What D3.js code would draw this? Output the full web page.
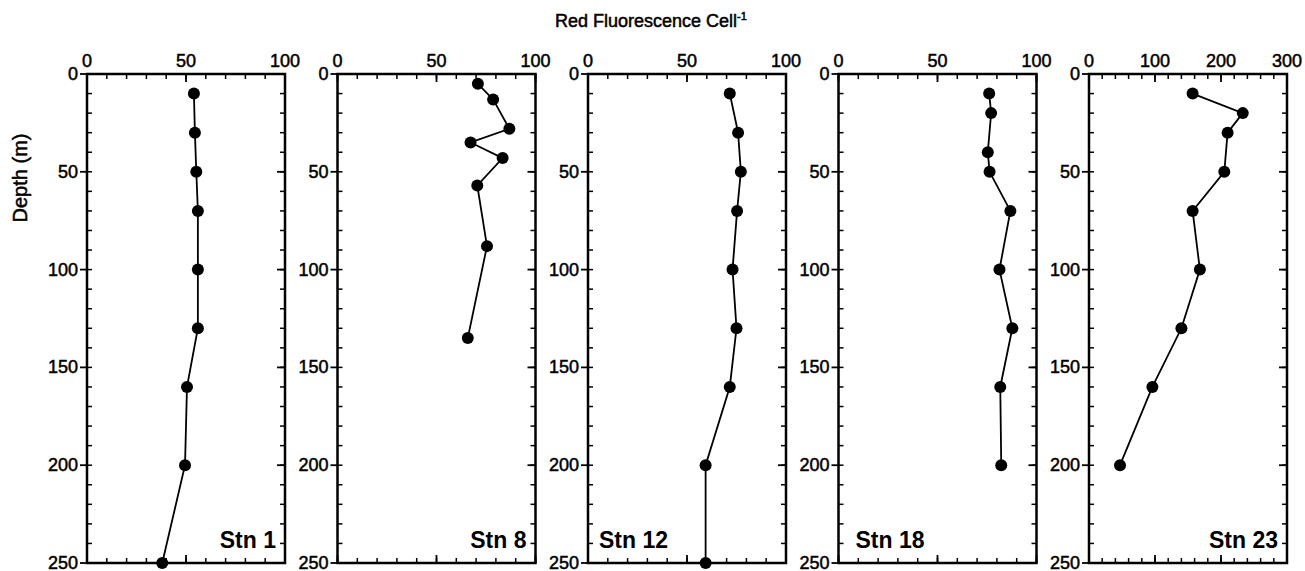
<!DOCTYPE html>
<html>
<head>
<meta charset="utf-8">
<script src="https://cdn.jsdelivr.net/npm/d3@7"></script>
<style>
  body { margin: 0; background: #fff; }
  svg text { font-family: "Liberation Sans", Arial, Helvetica, sans-serif; fill: #000; }
  .heavy { stroke: #000; stroke-width: 0.5px; }
</style>
</head>
<body>
<div id="chart"></div>
<script>
// Station names and x-axis ranges
const stations = ["Stn 1", "Stn 8", "Stn 12", "Stn 18", "Stn 23"];
const xMax = [100, 100, 100, 100, 300];

// Depth (m) of each sample, per station
const depth1 = [10, 30, 50, 70, 100, 130, 160, 200, 250];
const depth8 = [5, 13, 28, 35, 43, 57, 88, 135];
const depth12 = [10, 30, 50, 70, 100, 130, 160, 200, 250];
const depth18 = [10, 20, 40, 50, 70, 100, 130, 160, 200];
const depth23 = [10, 20, 30, 50, 70, 100, 130, 160, 200];

// Red fluorescence per cell, per station
const fluor1 = [54, 54.5, 55.2, 56, 56, 56, 50.5, 49.5, 38];
const fluor8 = [70.9, 78.6, 86.8, 67.2, 83.4, 70.6, 75.5, 65.8];
const fluor12 = [71.6, 75.8, 77.2, 75.3, 73.0, 75, 71.6, 59.4, 59.4];
const fluor18 = [76.1, 77.1, 75.4, 76.3, 86.8, 81.3, 87.8, 81.7, 82.2];
const fluor23 = [157, 233, 210, 205, 157, 168, 140, 96, 47];

const depths = [depth1, depth8, depth12, depth18, depth23];
const fluors = [fluor1, fluor8, fluor12, fluor18, fluor23];

// Tick values
const depthMajor = [0, 50, 100, 150, 200, 250];
const depthMinor = d3.range(0, 251, 10);
const xMajorTicks = [[0, 50, 100], [0, 50, 100], [0, 50, 100], [0, 50, 100], [0, 100, 200, 300]];
const xMinorStep = [10, 10, 10, 10, 20];

// Label placement inside each panel: anchor side
const labelAnchor = ["end", "end", "start", "start", "end"];

const width = 1305, height = 571;
const panelLeft0 = 87, panelStep = 250.5, panelWidth = 198;
const plotTop = 74, plotBottom = 563;

const svg = d3.select("#chart").append("svg")
    .attr("width", width)
    .attr("height", height);

const y = d3.scaleLinear().domain([0, 250]).range([plotTop, plotBottom]);

// Title
const title = svg.append("text")
    .attr("class", "heavy")
    .attr("x", 555)
    .attr("y", 27)
    .attr("font-size", "18px");
title.append("tspan").text("Red Fluorescence Cell");
title.append("tspan").attr("dy", -7).attr("font-size", "11px").text("-1");

// Y axis label
svg.append("text")
    .attr("class", "heavy")
    .attr("transform", "translate(27,178) rotate(-90)")
    .attr("text-anchor", "middle")
    .attr("font-size", "20px")
    .text("Depth (m)");

stations.forEach((name, i) => {
    const left = panelLeft0 + i * panelStep;
    const right = left + panelWidth;
    const x = d3.scaleLinear().domain([0, xMax[i]]).range([left, right]);
    const g = svg.append("g");

    const xMinor = d3.range(0, xMax[i] + 0.001, xMinorStep[i]);

    // Minor ticks, inward on all sides
    g.append("g").selectAll("line").data(xMinor).join("line")
        .attr("x1", d => x(d)).attr("x2", d => x(d))
        .attr("y1", plotTop).attr("y2", plotTop + 5)
        .attr("stroke", "#000").attr("stroke-width", 1.5);
    g.append("g").selectAll("line").data(xMinor).join("line")
        .attr("x1", d => x(d)).attr("x2", d => x(d))
        .attr("y1", plotBottom).attr("y2", plotBottom - 5)
        .attr("stroke", "#000").attr("stroke-width", 1.5);
    g.append("g").selectAll("line").data(depthMinor).join("line")
        .attr("x1", left).attr("x2", left + 5)
        .attr("y1", d => y(d)).attr("y2", d => y(d))
        .attr("stroke", "#000").attr("stroke-width", 1.5);
    g.append("g").selectAll("line").data(depthMinor).join("line")
        .attr("x1", right).attr("x2", right - 5)
        .attr("y1", d => y(d)).attr("y2", d => y(d))
        .attr("stroke", "#000").attr("stroke-width", 1.5);

    // Major ticks
    g.append("g").selectAll("line").data(xMajorTicks[i]).join("line")
        .attr("x1", d => x(d)).attr("x2", d => x(d))
        .attr("y1", plotTop).attr("y2", plotTop + 8)
        .attr("stroke", "#000").attr("stroke-width", 1.8);
    g.append("g").selectAll("line").data(xMajorTicks[i]).join("line")
        .attr("x1", d => x(d)).attr("x2", d => x(d))
        .attr("y1", plotBottom).attr("y2", plotBottom - 8)
        .attr("stroke", "#000").attr("stroke-width", 1.8);
    g.append("g").selectAll("line").data(depthMajor).join("line")
        .attr("x1", left - 7).attr("x2", left)
        .attr("y1", d => y(d)).attr("y2", d => y(d))
        .attr("stroke", "#000").attr("stroke-width", 1.8);
    g.append("g").selectAll("line").data(depthMajor).join("line")
        .attr("x1", right).attr("x2", right - 8)
        .attr("y1", d => y(d)).attr("y2", d => y(d))
        .attr("stroke", "#000").attr("stroke-width", 1.8);

    // Frame
    g.append("rect")
        .attr("x", left).attr("y", plotTop)
        .attr("width", panelWidth).attr("height", plotBottom - plotTop)
        .attr("fill", "none")
        .attr("stroke", "#000")
        .attr("stroke-width", 2.5);

    // Tick labels
    g.append("g").selectAll("text").data(xMajorTicks[i]).join("text")
        .attr("class", "heavy")
        .attr("x", d => x(d))
        .attr("y", plotTop - 7)
        .attr("text-anchor", "middle")
        .attr("font-size", "18px")
        .text(d => d);
    g.append("g").selectAll("text").data(depthMajor).join("text")
        .attr("class", "heavy")
        .attr("x", left - 9)
        .attr("y", d => y(d))
        .attr("dy", "0.33em")
        .attr("text-anchor", "end")
        .attr("font-size", "18px")
        .text(d => d);

    // Profile
    const pts = depths[i].map((d, k) => [fluors[i][k], d]);
    g.append("path")
        .datum(pts)
        .attr("fill", "none")
        .attr("stroke", "#000")
        .attr("stroke-width", 1.8)
        .attr("d", d3.line().x(p => x(p[0])).y(p => y(p[1])));
    g.append("g").selectAll("circle").data(pts).join("circle")
        .attr("cx", p => x(p[0]))
        .attr("cy", p => y(p[1]))
        .attr("r", 6)
        .attr("fill", "#000");

    // Station label
    g.append("text")
        .attr("x", labelAnchor[i] === "end" ? right - 9 : left + (i === 2 ? 11 : 17))
        .attr("y", plotBottom - 15)
        .attr("text-anchor", labelAnchor[i])
        .attr("font-size", "23px")
        .attr("font-weight", "bold")
        .text(name);
});
</script>
</body>
</html>
